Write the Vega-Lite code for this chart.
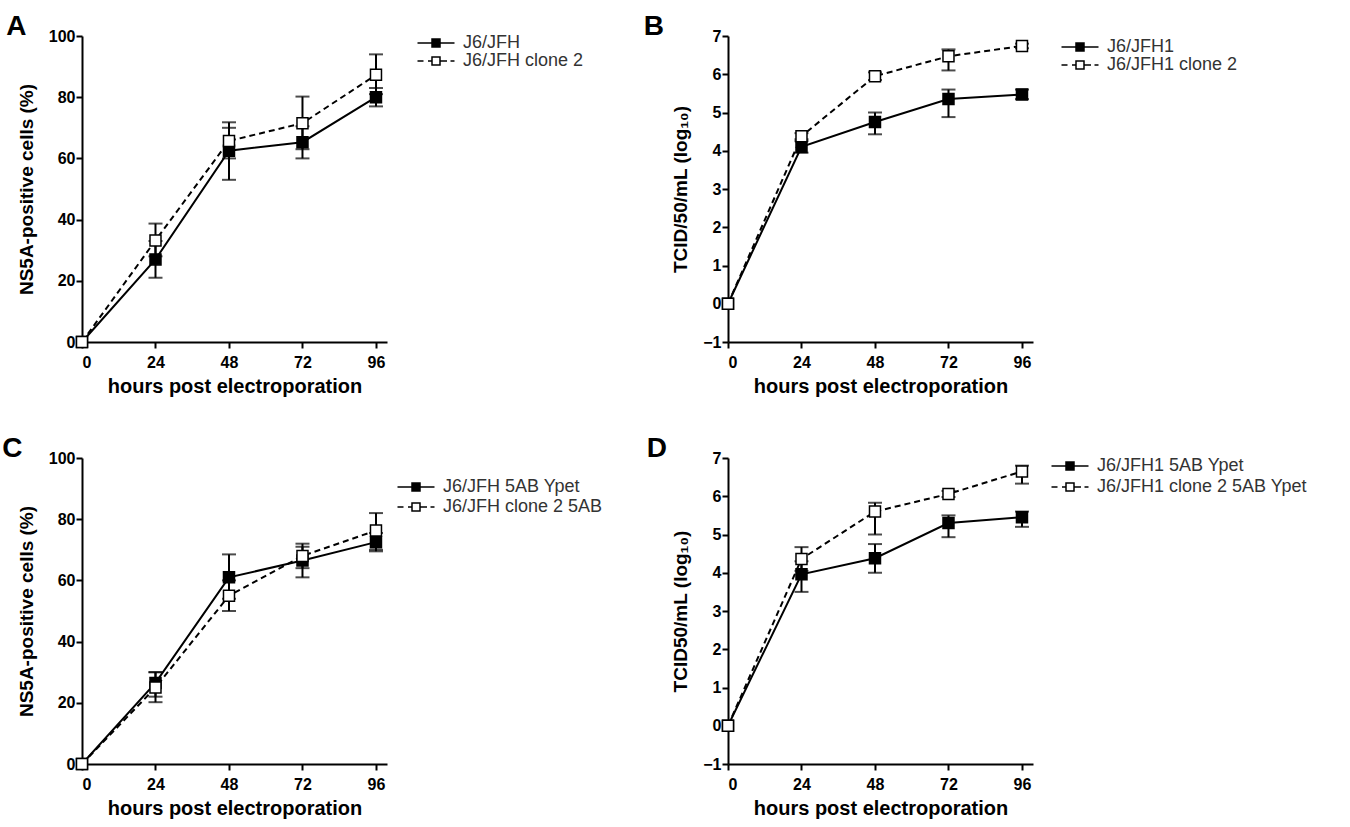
{
  "$schema": "https://vega.github.io/schema/vega-lite/v6.json",
  "background": "white",
  "padding": {"left": 2, "top": 13, "right": 5, "bottom": 5},
  "datasets": {
    "growth": [
      {"p": "A", "s": "J6/JFH", "h": 0, "m": 0, "lo": null, "hi": null},
      {"p": "A", "s": "J6/JFH", "h": 24, "m": 27, "lo": 21, "hi": 33},
      {"p": "A", "s": "J6/JFH", "h": 48, "m": 62.5, "lo": 53, "hi": 70},
      {"p": "A", "s": "J6/JFH", "h": 72, "m": 65.3, "lo": 60, "hi": 70.5},
      {"p": "A", "s": "J6/JFH", "h": 96, "m": 80, "lo": 77, "hi": 83},
      {"p": "A", "s": "J6/JFH clone 2", "h": 0, "m": 0, "lo": null, "hi": null},
      {"p": "A", "s": "J6/JFH clone 2", "h": 24, "m": 33.2, "lo": 28, "hi": 38.7},
      {"p": "A", "s": "J6/JFH clone 2", "h": 48, "m": 65.7, "lo": 60, "hi": 71.8},
      {"p": "A", "s": "J6/JFH clone 2", "h": 72, "m": 71.5, "lo": 63, "hi": 80.2},
      {"p": "A", "s": "J6/JFH clone 2", "h": 96, "m": 87.3, "lo": 81, "hi": 94},
      {"p": "B", "s": "J6/JFH1", "h": 0, "m": 0, "lo": null, "hi": null},
      {"p": "B", "s": "J6/JFH1", "h": 24, "m": 4.1, "lo": 3.95, "hi": 4.25},
      {"p": "B", "s": "J6/JFH1", "h": 48, "m": 4.75, "lo": 4.43, "hi": 5.0},
      {"p": "B", "s": "J6/JFH1", "h": 72, "m": 5.35, "lo": 4.88, "hi": 5.6},
      {"p": "B", "s": "J6/JFH1", "h": 96, "m": 5.47, "lo": 5.35, "hi": 5.6},
      {"p": "B", "s": "J6/JFH1 clone 2", "h": 0, "m": 0, "lo": null, "hi": null},
      {"p": "B", "s": "J6/JFH1 clone 2", "h": 24, "m": 4.38, "lo": 4.3, "hi": 4.46},
      {"p": "B", "s": "J6/JFH1 clone 2", "h": 48, "m": 5.95, "lo": 5.85, "hi": 6.05},
      {"p": "B", "s": "J6/JFH1 clone 2", "h": 72, "m": 6.47, "lo": 6.1, "hi": 6.65},
      {"p": "B", "s": "J6/JFH1 clone 2", "h": 96, "m": 6.74, "lo": 6.68, "hi": 6.8},
      {"p": "C", "s": "J6/JFH 5AB Ypet", "h": 0, "m": 0, "lo": null, "hi": null},
      {"p": "C", "s": "J6/JFH 5AB Ypet", "h": 24, "m": 26.5, "lo": 22, "hi": 30},
      {"p": "C", "s": "J6/JFH 5AB Ypet", "h": 48, "m": 61, "lo": 54, "hi": 68.5},
      {"p": "C", "s": "J6/JFH 5AB Ypet", "h": 72, "m": 66.5, "lo": 61, "hi": 71},
      {"p": "C", "s": "J6/JFH 5AB Ypet", "h": 96, "m": 72.5, "lo": 69.5, "hi": 75.5},
      {"p": "C", "s": "J6/JFH clone 2 5AB", "h": 0, "m": 0, "lo": null, "hi": null},
      {"p": "C", "s": "J6/JFH clone 2 5AB", "h": 24, "m": 25, "lo": 20.2, "hi": 30},
      {"p": "C", "s": "J6/JFH clone 2 5AB", "h": 48, "m": 55, "lo": 50, "hi": 60},
      {"p": "C", "s": "J6/JFH clone 2 5AB", "h": 72, "m": 68, "lo": 64, "hi": 72},
      {"p": "C", "s": "J6/JFH clone 2 5AB", "h": 96, "m": 76.3, "lo": 70, "hi": 82},
      {"p": "D", "s": "J6/JFH1 5AB Ypet", "h": 0, "m": 0, "lo": null, "hi": null},
      {"p": "D", "s": "J6/JFH1 5AB Ypet", "h": 24, "m": 3.96, "lo": 3.5, "hi": 4.3},
      {"p": "D", "s": "J6/JFH1 5AB Ypet", "h": 48, "m": 4.38, "lo": 4.0, "hi": 4.75},
      {"p": "D", "s": "J6/JFH1 5AB Ypet", "h": 72, "m": 5.3, "lo": 4.93, "hi": 5.5},
      {"p": "D", "s": "J6/JFH1 5AB Ypet", "h": 96, "m": 5.45, "lo": 5.2, "hi": 5.6},
      {"p": "D", "s": "J6/JFH1 clone 2 5AB Ypet", "h": 0, "m": 0, "lo": null, "hi": null},
      {"p": "D", "s": "J6/JFH1 clone 2 5AB Ypet", "h": 24, "m": 4.36, "lo": 4.05, "hi": 4.67},
      {"p": "D", "s": "J6/JFH1 clone 2 5AB Ypet", "h": 48, "m": 5.6, "lo": 5.0, "hi": 5.83},
      {"p": "D", "s": "J6/JFH1 clone 2 5AB Ypet", "h": 72, "m": 6.06, "lo": 5.98, "hi": 6.14},
      {"p": "D", "s": "J6/JFH1 clone 2 5AB Ypet", "h": 96, "m": 6.65, "lo": 6.33, "hi": 6.8}
    ]
  },
  "data": {"name": "growth"},
  "columns": 2,
  "spacing": {"column": 40, "row": 39},
  "resolve": {
    "scale": {"x": "independent", "y": "independent", "fill": "independent", "shape": "independent"},
    "legend": {"fill": "independent", "shape": "independent"}
  },
  "concat": [
    {
      "title": {"text": "A", "dx": -11},
      "width": 305, "height": 306,
      "transform": [{"filter": "datum.p === 'A'"}],
      "encoding": {
        "x": {"field": "h", "type": "quantitative", "scale": {"domain": [0, 99.6], "nice": false}, "axis": {"values": [0, 24, 48, 72, 96], "title": "hours post electroporation"}},
        "y": {"field": "m", "type": "quantitative", "scale": {"domain": [0, 100], "nice": false}, "axis": {"values": [0, 20, 40, 60, 80, 100], "title": "NS5A-positive cells (%)"}}
      },
      "layer": [
        {"transform": [{"filter": "indexof(datum.s,'clone') < 0"}], "mark": {"type": "line", "color": "black", "strokeWidth": 2}, "encoding": {}},
        {"transform": [{"filter": "indexof(datum.s,'clone') >= 0"}], "mark": {"type": "line", "color": "black", "strokeWidth": 2, "strokeDash": [6, 4]}, "encoding": {}},
        {"transform": [{"filter": "isValid(datum.lo)"}],
         "mark": {"type": "errorbar", "ticks": {"size": 14, "thickness": 2, "color": "black"}, "rule": {"strokeWidth": 2, "color": "black"}},
         "encoding": {"y": {"field": "lo", "type": "quantitative", "title": "NS5A-positive cells (%)"}, "y2": {"field": "hi"}}},
        {"mark": {"type": "point", "shape": "square", "filled": true, "size": 121, "stroke": "black", "strokeWidth": 1.5, "opacity": 1},
         "encoding": {"fill": {"field": "s", "type": "nominal", "scale": {"domain": ["J6/JFH", "J6/JFH clone 2"], "range": ["black", "white"]},
           "legend": {"title": null, "orient": "none", "legendX": 345, "legendY": -2, "padding": 0, "symbolSize": 100, "symbolStrokeColor": "black", "symbolStrokeWidth": 1.5, "labelFontSize": 18, "labelOffset": 18, "labelLimit": 400, "rowPadding": 0, "labelColor": "#333", "labelFont": "Liberation Sans"}}}},
        {"transform": [{"filter": "false"}],
         "mark": {"type": "point", "filled": true, "stroke": "black", "strokeWidth": 1.5},
         "encoding": {
           "shape": {"field": "s", "type": "nominal", "scale": {"domain": ["J6/JFH", "J6/JFH clone 2"], "range": ["M-3.7,0H-0.8M0.8,0H3.7M-0.8,-0.8H0.8V0.8H-0.8Z", "M-3.7,0H-2.5M-1.6,0H-0.8M0.8,0H2.2M2.9,0H3.7M-0.8,-0.8H0.8V0.8H-0.8Z"]},
             "legend": {"title": null, "orient": "none", "legendX": 345, "legendY": -2, "padding": 0, "symbolSize": 100, "symbolStrokeColor": "black", "symbolStrokeWidth": 1.5, "labelFontSize": 18, "labelOffset": 18, "labelLimit": 400, "rowPadding": 0, "labelColor": "#333", "labelFont": "Liberation Sans"}}}}
      ]
    },
    {
      "title": {"text": "B", "dx": -28},
      "width": 305, "height": 306,
      "transform": [{"filter": "datum.p === 'B'"}],
      "encoding": {
        "x": {"field": "h", "type": "quantitative", "scale": {"domain": [0, 99.6], "nice": false}, "axis": {"values": [0, 24, 48, 72, 96], "title": "hours post electroporation"}},
        "y": {"field": "m", "type": "quantitative", "scale": {"domain": [-1, 7], "nice": false}, "axis": {"values": [-1, 0, 1, 2, 3, 4, 5, 6, 7], "title": "TCID/50/mL (log₁₀)"}}
      },
      "layer": [
        {"transform": [{"filter": "indexof(datum.s,'clone') < 0"}], "mark": {"type": "line", "color": "black", "strokeWidth": 2}, "encoding": {}},
        {"transform": [{"filter": "indexof(datum.s,'clone') >= 0"}], "mark": {"type": "line", "color": "black", "strokeWidth": 2, "strokeDash": [6, 4]}, "encoding": {}},
        {"transform": [{"filter": "isValid(datum.lo)"}],
         "mark": {"type": "errorbar", "ticks": {"size": 14, "thickness": 2, "color": "black"}, "rule": {"strokeWidth": 2, "color": "black"}},
         "encoding": {"y": {"field": "lo", "type": "quantitative", "title": "TCID/50/mL (log₁₀)"}, "y2": {"field": "hi"}}},
        {"mark": {"type": "point", "shape": "square", "filled": true, "size": 121, "stroke": "black", "strokeWidth": 1.5, "opacity": 1},
         "encoding": {"fill": {"field": "s", "type": "nominal", "scale": {"domain": ["J6/JFH1", "J6/JFH1 clone 2"], "range": ["black", "white"]},
           "legend": {"title": null, "orient": "none", "legendX": 343, "legendY": 2, "padding": 0, "symbolSize": 100, "symbolStrokeColor": "black", "symbolStrokeWidth": 1.5, "labelFontSize": 18, "labelOffset": 18, "labelLimit": 400, "rowPadding": 0, "labelColor": "#333", "labelFont": "Liberation Sans"}}}},
        {"transform": [{"filter": "false"}],
         "mark": {"type": "point", "filled": true, "stroke": "black", "strokeWidth": 1.5},
         "encoding": {
           "shape": {"field": "s", "type": "nominal", "scale": {"domain": ["J6/JFH1", "J6/JFH1 clone 2"], "range": ["M-3.7,0H-0.8M0.8,0H3.7M-0.8,-0.8H0.8V0.8H-0.8Z", "M-3.7,0H-2.5M-1.6,0H-0.8M0.8,0H2.2M2.9,0H3.7M-0.8,-0.8H0.8V0.8H-0.8Z"]},
             "legend": {"title": null, "orient": "none", "legendX": 343, "legendY": 2, "padding": 0, "symbolSize": 100, "symbolStrokeColor": "black", "symbolStrokeWidth": 1.5, "labelFontSize": 18, "labelOffset": 18, "labelLimit": 400, "rowPadding": 0, "labelColor": "#333", "labelFont": "Liberation Sans"}}}}
      ]
    },
    {
      "title": {"text": "C", "dx": -15},
      "width": 305, "height": 306,
      "transform": [{"filter": "datum.p === 'C'"}],
      "encoding": {
        "x": {"field": "h", "type": "quantitative", "scale": {"domain": [0, 99.6], "nice": false}, "axis": {"values": [0, 24, 48, 72, 96], "title": "hours post electroporation"}},
        "y": {"field": "m", "type": "quantitative", "scale": {"domain": [0, 100], "nice": false}, "axis": {"values": [0, 20, 40, 60, 80, 100], "title": "NS5A-positive cells (%)"}}
      },
      "layer": [
        {"transform": [{"filter": "indexof(datum.s,'clone') < 0"}], "mark": {"type": "line", "color": "black", "strokeWidth": 2}, "encoding": {}},
        {"transform": [{"filter": "indexof(datum.s,'clone') >= 0"}], "mark": {"type": "line", "color": "black", "strokeWidth": 2, "strokeDash": [6, 4]}, "encoding": {}},
        {"transform": [{"filter": "isValid(datum.lo)"}],
         "mark": {"type": "errorbar", "ticks": {"size": 14, "thickness": 2, "color": "black"}, "rule": {"strokeWidth": 2, "color": "black"}},
         "encoding": {"y": {"field": "lo", "type": "quantitative", "title": "NS5A-positive cells (%)"}, "y2": {"field": "hi"}}},
        {"mark": {"type": "point", "shape": "square", "filled": true, "size": 121, "stroke": "black", "strokeWidth": 1.5, "opacity": 1},
         "encoding": {"fill": {"field": "s", "type": "nominal", "scale": {"domain": ["J6/JFH 5AB Ypet", "J6/JFH clone 2 5AB"], "range": ["black", "white"]},
           "legend": {"title": null, "orient": "none", "legendX": 325, "legendY": 20, "padding": 0, "symbolSize": 100, "symbolStrokeColor": "black", "symbolStrokeWidth": 1.5, "labelFontSize": 18, "labelOffset": 18, "labelLimit": 400, "rowPadding": 2, "labelColor": "#333", "labelFont": "Liberation Sans"}}}},
        {"transform": [{"filter": "false"}],
         "mark": {"type": "point", "filled": true, "stroke": "black", "strokeWidth": 1.5},
         "encoding": {
           "shape": {"field": "s", "type": "nominal", "scale": {"domain": ["J6/JFH 5AB Ypet", "J6/JFH clone 2 5AB"], "range": ["M-3.7,0H-0.8M0.8,0H3.7M-0.8,-0.8H0.8V0.8H-0.8Z", "M-3.7,0H-2.5M-1.6,0H-0.8M0.8,0H2.2M2.9,0H3.7M-0.8,-0.8H0.8V0.8H-0.8Z"]},
             "legend": {"title": null, "orient": "none", "legendX": 325, "legendY": 20, "padding": 0, "symbolSize": 100, "symbolStrokeColor": "black", "symbolStrokeWidth": 1.5, "labelFontSize": 18, "labelOffset": 18, "labelLimit": 400, "rowPadding": 2, "labelColor": "#333", "labelFont": "Liberation Sans"}}}}
      ]
    },
    {
      "title": {"text": "D", "dx": -25},
      "width": 305, "height": 306,
      "transform": [{"filter": "datum.p === 'D'"}],
      "encoding": {
        "x": {"field": "h", "type": "quantitative", "scale": {"domain": [0, 99.6], "nice": false}, "axis": {"values": [0, 24, 48, 72, 96], "title": "hours post electroporation"}},
        "y": {"field": "m", "type": "quantitative", "scale": {"domain": [-1, 7], "nice": false}, "axis": {"values": [-1, 0, 1, 2, 3, 4, 5, 6, 7], "title": "TCID50/mL (log₁₀)"}}
      },
      "layer": [
        {"transform": [{"filter": "indexof(datum.s,'clone') < 0"}], "mark": {"type": "line", "color": "black", "strokeWidth": 2}, "encoding": {}},
        {"transform": [{"filter": "indexof(datum.s,'clone') >= 0"}], "mark": {"type": "line", "color": "black", "strokeWidth": 2, "strokeDash": [6, 4]}, "encoding": {}},
        {"transform": [{"filter": "isValid(datum.lo)"}],
         "mark": {"type": "errorbar", "ticks": {"size": 14, "thickness": 2, "color": "black"}, "rule": {"strokeWidth": 2, "color": "black"}},
         "encoding": {"y": {"field": "lo", "type": "quantitative", "title": "TCID50/mL (log₁₀)"}, "y2": {"field": "hi"}}},
        {"mark": {"type": "point", "shape": "square", "filled": true, "size": 121, "stroke": "black", "strokeWidth": 1.5, "opacity": 1},
         "encoding": {"fill": {"field": "s", "type": "nominal", "scale": {"domain": ["J6/JFH1 5AB Ypet", "J6/JFH1 clone 2 5AB Ypet"], "range": ["black", "white"]},
           "legend": {"title": null, "orient": "none", "legendX": 333, "legendY": -1, "padding": 0, "symbolSize": 100, "symbolStrokeColor": "black", "symbolStrokeWidth": 1.5, "labelFontSize": 18, "labelOffset": 18, "labelLimit": 400, "rowPadding": 3, "labelColor": "#333", "labelFont": "Liberation Sans"}}}},
        {"transform": [{"filter": "false"}],
         "mark": {"type": "point", "filled": true, "stroke": "black", "strokeWidth": 1.5},
         "encoding": {
           "shape": {"field": "s", "type": "nominal", "scale": {"domain": ["J6/JFH1 5AB Ypet", "J6/JFH1 clone 2 5AB Ypet"], "range": ["M-3.7,0H-0.8M0.8,0H3.7M-0.8,-0.8H0.8V0.8H-0.8Z", "M-3.7,0H-2.5M-1.6,0H-0.8M0.8,0H2.2M2.9,0H3.7M-0.8,-0.8H0.8V0.8H-0.8Z"]},
             "legend": {"title": null, "orient": "none", "legendX": 333, "legendY": -1, "padding": 0, "symbolSize": 100, "symbolStrokeColor": "black", "symbolStrokeWidth": 1.5, "labelFontSize": 18, "labelOffset": 18, "labelLimit": 400, "rowPadding": 3, "labelColor": "#333", "labelFont": "Liberation Sans"}}}}
      ]
    }
  ],
  "config": {
    "view": {"stroke": null},
    "font": "Liberation Sans",
    "title": {"anchor": "start", "frame": "bounds", "fontSize": 28, "fontWeight": "bold", "font": "Liberation Sans", "color": "black", "offset": -13},
    "axis": {"grid": false, "domainColor": "black", "domainWidth": 2, "tickColor": "black", "tickWidth": 2, "tickSize": 6,
      "labelFont": "Liberation Sans", "labelFontWeight": "bold", "labelFontSize": 16, "labelColor": "black",
      "titleFont": "Liberation Sans", "titleFontWeight": "bold", "titleFontSize": 19, "titleColor": "black"},
    "axisX": {"labelPadding": 6, "titlePadding": 6, "titleFontSize": 20},
    "axisY": {"labelPadding": 1, "titlePadding": 12}
  }
}
